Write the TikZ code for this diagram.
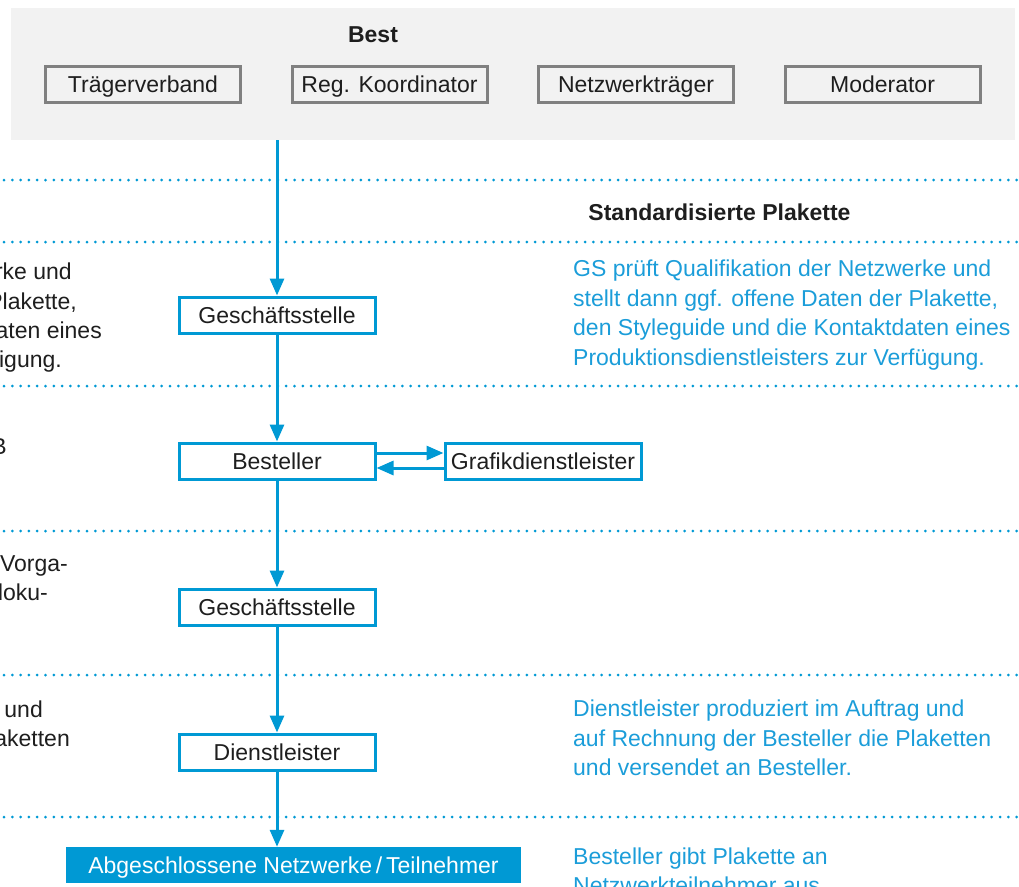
\documentclass[tikz,border=0pt]{standalone}
\usepackage{fontspec}
\setmainfont{Liberation Sans}
\usetikzlibrary{positioning,arrows.meta}

\definecolor{panelgrau}{RGB}{242,242,242}
\definecolor{rahmengrau}{RGB}{128,128,128}
\definecolor{blau}{RGB}{0,153,212}
\definecolor{textblau}{RGB}{27,157,217}
\definecolor{textschwarz}{RGB}{30,30,30}

\begin{document}
\begin{tikzpicture}[x=1pt, y=-1pt, font=\fontsize{23}{29.5}\selectfont,
  grbox/.style={draw=rahmengrau, line width=3pt, minimum width=195pt, minimum height=36pt,
    inner sep=0pt, text height=16.5pt, text depth=0pt, text=textschwarz},
  blbox/.style={draw=blau, fill=white, line width=3pt, minimum width=196pt, minimum height=36pt,
    inner sep=0pt, text height=16.5pt, text depth=0pt, text=textschwarz},
  flow/.style={draw=blau, line width=3pt, -{Triangle[width=14pt,length=17pt]}},
  trenn/.style={draw=blau, line width=3pt, line cap=round, dash pattern=on 0pt off 8.3pt},
  notiz/.style={anchor=west, align=left, text=textblau, inner sep=0pt},
  rest/.style={anchor=base east, text=textschwarz, inner sep=0pt}]
\useasboundingbox (0,0) rectangle (1019,886);
\clip (0,0) rectangle (1019,886);

% trennlinien
\foreach \y in {180,242,386,531,675,817}
  \draw[trenn] (4,\y) -- (1019,\y);

% kopf
\fill[panelgrau] (11,8) rectangle (1015,140);
\node[text=textschwarz, font=\fontsize{23}{26}\selectfont\bfseries] (best) at (373,35) {Best};
\node[grbox] (traeger) at (143,84) {Trägerverband};
\node[grbox, right=48.5pt of traeger] (koord) {Reg. Koordinator};
\node[grbox, right=48.5pt of koord] (netz) {Netzwerkträger};
\node[grbox, right=48.5pt of netz] (moder) {Moderator};
\coordinate (start) at (277,140);

\node[text=textschwarz, font=\fontsize{23}{26}\selectfont\bfseries] (titel) at (719.5,212) {Standardisierte Plakette};

% ablauf
\node[blbox] (gs1) at (277,315) {Geschäftsstelle};
\node[blbox] (bestell) at (277,461) {Besteller};
\node[blbox, right=67pt of bestell] (grafik) {Grafikdienstleister};
\node[blbox] (gs2) at (277,607) {Geschäftsstelle};
\node[blbox] (dienst) at (277,752) {Dienstleister};
\node[fill=blau, text=white, minimum width=455pt, minimum height=36pt, inner sep=0pt,
  text height=16.5pt, text depth=0pt] (abg) at (293.5,865)
  {Abgeschlossene Netzwerke\,/\,Teilnehmer};

\draw[flow] (start) -- (gs1);
\draw[flow] (gs1) -- (bestell);
\draw[flow] ([yshift=8pt]bestell.east) -- ([yshift=8pt]grafik.west);
\draw[flow] ([yshift=-7pt]grafik.west) -- ([yshift=-7pt]bestell.east);
\draw[flow] (bestell) -- (gs2);
\draw[flow] (gs2) -- (dienst);
\draw[flow] (dienst.south) -- (dienst.south |- abg.north);

% erlaeuterungen rechts
\node[notiz] (txtgs) at (573,315) {GS prüft Qualifikation der Netzwerke und\\
  stellt dann ggf. offene Daten der Plakette,\\
  den Styleguide und die Kontaktdaten eines\\
  Produktionsdienstleisters zur Verfügung.};
\node[notiz] (txtdl) at (573,738) {Dienstleister produziert im Auftrag und\\
  auf Rechnung der Besteller die Plaketten\\
  und versendet an Besteller.};
\node[notiz] (txtab) at (573,871) {Besteller gibt Plakette an\\
  Netzwerkteilnehmer aus};

% angeschnittene spalte links
\node[rest] (l1) at (72,279) {rke und};
\node[rest] (l2) at (77,309) {Plakette,};
\node[rest] (l3) at (102,338) {aten eines};
\node[rest] (l4) at (62,367) {igung.};
\node[rest] (l5) at (7,454) {B};
\node[rest] (l6) at (68,571) {Vorga-};
\node[rest] (l7) at (48,600) {doku-};
\node[rest] (l8) at (43,717) {und};
\node[rest] (l9) at (70,746) {aketten};
\end{tikzpicture}
\end{document}
